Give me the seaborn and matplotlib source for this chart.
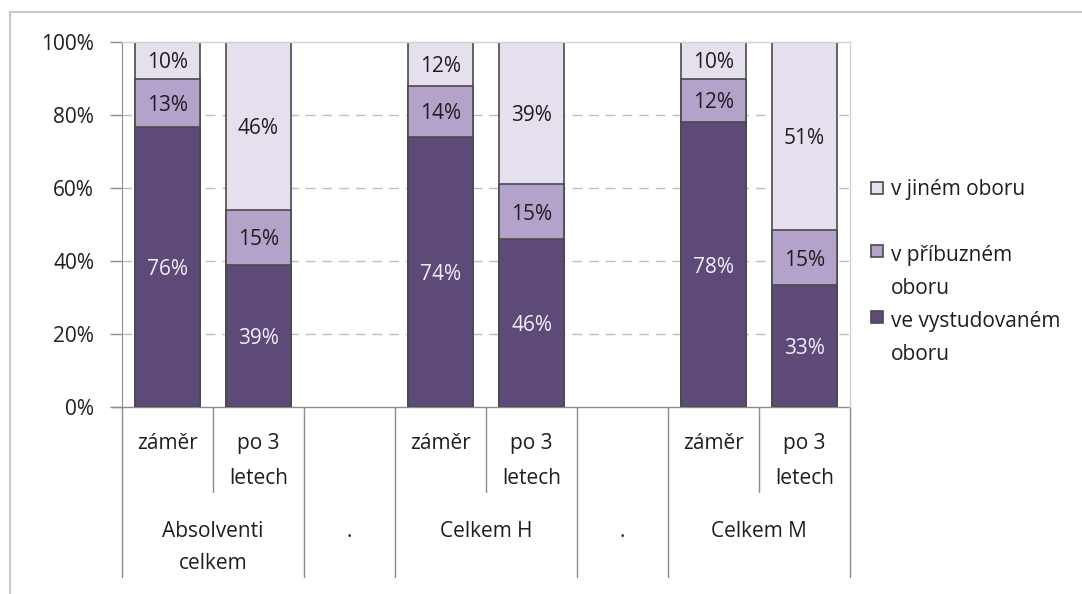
import numpy as np
import pandas as pd
import matplotlib.pyplot as plt
import matplotlib.transforms as mtransforms
from matplotlib.patches import Rectangle
from matplotlib.lines import Line2D
import seaborn as sns

# data (hodnoty v %)
slots = ["AC_z", "AC_p", "gap1", "H_z", "H_p", "gap2", "M_z", "M_p"]
bar_slots = ["AC_z", "AC_p", "H_z", "H_p", "M_z", "M_p"]
vystudovany = [76, 39, 74, 46, 78, 33]
pribuzny = [13, 15, 14, 15, 12, 15]
jiny = [10, 46, 12, 39, 10, 51]
sub_labels = ["záměr", "po 3\nletech", "", "záměr", "po 3\nletech", "", "záměr", "po 3\nletech"]
group_labels = ["Absolventi\ncelkem", ".", "Celkem H", ".", "Celkem M"]
group_spans = [(0, 2), (2, 3), (3, 5), (5, 6), (6, 8)]

c_dark = "#5E4A78"
c_mid = "#B3A2CA"
c_light = "#E6E0EE"
edge = "#4A4A4A"
txt = "#1E1E1E"
FS = 15

sns.set_style("white")
plt.rcParams["font.family"] = ["Open Sans", "DejaVu Sans"]

df = pd.DataFrame({"slot": bar_slots, "a": vystudovany, "b": pribuzny, "c": jiny})
tot = df[["a", "b", "c"]].sum(axis=1)
df["cum_a"] = df["a"] / tot * 100
df["cum_b"] = (df["a"] + df["b"]) / tot * 100
df["cum_c"] = (df["a"] + df["b"] + df["c"]) / tot * 100

fig = plt.figure(figsize=(10.82, 5.94), dpi=100)
ax = fig.add_axes([122 / 1082, 1 - 407 / 594, 728 / 1082, 365 / 594])

# mřížka
for y in [20, 40, 60, 80]:
    ax.axhline(y, color="#BDBDBD", lw=1, ls=(0, (7, 5)), zorder=0)

w = 0.72
sns.barplot(data=df, x="slot", y="cum_c", order=slots, color=c_light, width=w,
            edgecolor=edge, linewidth=1.2, saturation=1, ax=ax, zorder=2)
sns.barplot(data=df, x="slot", y="cum_b", order=slots, color=c_mid, width=w,
            edgecolor=edge, linewidth=1.2, saturation=1, ax=ax, zorder=3)
sns.barplot(data=df, x="slot", y="cum_a", order=slots, color=c_dark, width=w,
            edgecolor=edge, linewidth=1.2, saturation=1, ax=ax, zorder=4)

# popisky hodnot
for i, s in enumerate(bar_slots):
    xi = slots.index(s)
    lo = 0
    for val, top, col in [(vystudovany[i], df["cum_a"][i], "#F2EEF7"),
                          (pribuzny[i], df["cum_b"][i], txt),
                          (jiny[i], df["cum_c"][i], txt)]:
        ax.text(xi, (lo + top) / 2, f"{val}%", ha="center", va="center_baseline",
                fontsize=FS, color=col, zorder=6)
        lo = top

ax.set_xlim(-0.5, len(slots) - 0.5)
ax.set_ylim(0, 100)
ax.set_yticks([0, 20, 40, 60, 80, 100])
ax.set_yticklabels([f"{v}%" for v in [0, 20, 40, 60, 80, 100]], fontsize=FS)
ax.set_xticks([])
ax.set_xlabel("")
ax.set_ylabel("")
ax.tick_params(axis="y", left=True, length=9, width=1, color="#8C8C8C", pad=11, labelcolor=txt)
for side in ["top", "right"]:
    ax.spines[side].set_visible(True)
    ax.spines[side].set_color("#D0D0D0")
    ax.spines[side].set_linewidth(1)
ax.spines["left"].set_color("#8C8C8C")
ax.spines["bottom"].set_visible(False)

# kategoriální osa (dvouúrovňová)
tr = mtransforms.blended_transform_factory(ax.transData, ax.transAxes)
px = 1 / 365.0
ax.add_line(Line2D([-0.5 - 9 / 91, 7.5], [0, 0], transform=tr, color="#8C8C8C", lw=1, clip_on=False))
for xb in np.arange(-0.5, 8.0, 1.0):
    short = xb in (0.5, 3.5, 6.5)
    ybot = -(492 - 407) * px if short else -(577 - 407) * px
    ax.add_line(Line2D([xb, xb], [0, ybot], transform=tr, color="#8C8C8C", lw=1, clip_on=False))
for i, lab in enumerate(sub_labels):
    if lab:
        ax.text(i, -(433 - 407) * px, lab, transform=tr, ha="center", va="top",
                fontsize=FS, color=txt, linespacing=1.85)
for (a, b), lab in zip(group_spans, group_labels):
    ax.text((a + b - 1) / 2, -(521 - 407) * px, lab, transform=tr, ha="center", va="top",
            fontsize=FS, color=txt, linespacing=1.7)

# legenda
leg_items = [(c_light, "v jiném oboru", 188, 179), (c_mid, "v příbuzném\noboru", 251, 245),
             (c_dark, "ve vystudovaném\noboru", 317, 311)]
for col, lab, ysq, ytxt in leg_items:
    fig.patches.append(Rectangle((871 / 1082, 1 - (ysq + 6) / 594), 12 / 1082, 12 / 594,
                                 transform=fig.transFigure, facecolor=col,
                                 edgecolor=edge, lw=1.2))
    fig.text(891 / 1082, 1 - ytxt / 594, lab, ha="left", va="top",
             fontsize=FS, color=txt, linespacing=1.75)

# rámeček grafu
fig.add_artist(Line2D([10 / 1082, 1], [1 - 12 / 594, 1 - 12 / 594], transform=fig.transFigure,
                      color="#C8C8C8", lw=1.5))
fig.add_artist(Line2D([10 / 1082, 10 / 1082], [0, 1 - 12 / 594], transform=fig.transFigure,
                      color="#C8C8C8", lw=1.5))

fig.savefig("out.png", dpi=100)
